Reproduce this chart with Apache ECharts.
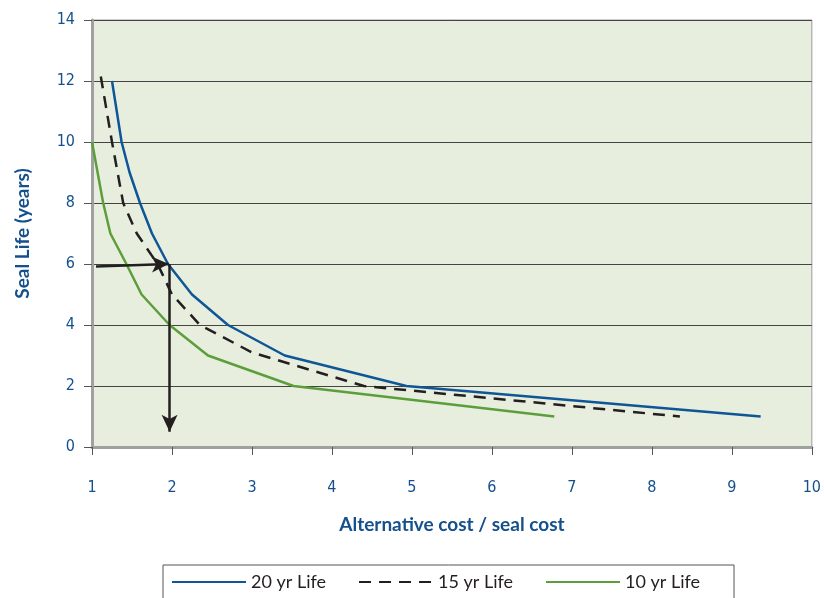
<!DOCTYPE html>
<html>
<head>
<meta charset="utf-8">
<script src="https://cdn.jsdelivr.net/npm/echarts@6/dist/echarts.min.js"></script>
<style>
html,body{margin:0;padding:0;background:#fff;}
#chart{width:824px;height:598px;}
</style>
</head>
<body>
<div id="chart"></div>
<script>
// 20 yr Life
var x20 = [1.25, 1.37, 1.47, 1.6, 1.75, 1.95, 2.25, 2.7, 3.41, 4.93, 9.36];
var y20 = [12, 10, 9, 8, 7, 6, 5, 4, 3, 2, 1];
// 15 yr Life
var x15 = [1.11, 1.25, 1.39, 1.56, 1.82, 2.0, 2.35, 3.0, 4.4, 8.35];
var y15 = [12.15, 10, 8, 7, 6, 5, 4, 3.1, 2.0, 1.0];
// 10 yr Life
var x10 = [1.0, 1.14, 1.23, 1.43, 1.62, 1.97, 2.45, 3.52, 6.78];
var y10 = [10, 8, 7, 6, 5, 4, 3, 2, 1];
// reading arrows
var arrowH = [[1.05, 5.92], [1.96, 6.0]];
var arrowV = [[1.97, 6.0], [1.97, 0.5]];

var seriesNames = ['20 yr Life', '15 yr Life', '10 yr Life'];
var xTitle = 'Alternative cost / seal cost';
var yTitle = 'Seal Life (years)';

function zip(xs, ys) { return xs.map(function (x, i) { return [x, ys[i]]; }); }

var labelColor = '#14508c';
var tickFont = "'DejaVu Sans Condensed', 'Liberation Sans Narrow', 'Roboto', sans-serif";
var chart = echarts.init(document.getElementById('chart'), null, {renderer: 'canvas'});
chart.setOption({
  animation: false,
  grid: {left: 92, right: 11, top: 20, bottom: 151, show: true,
         backgroundColor: '#e7eede', borderColor: '#9a9a9a', borderWidth: 1},
  xAxis: {
    type: 'value', min: 1, max: 10, interval: 1,
    name: xTitle, nameLocation: 'middle', nameGap: 68,
    nameTextStyle: {fontFamily: 'Lato', fontWeight: 'bold', fontSize: 19, color: labelColor},
    axisLine: {show: true, lineStyle: {color: '#a0a0a0', width: 3}},
    axisTick: {show: true, inside: false, length: 8, lineStyle: {color: '#555', width: 1}},
    axisLabel: {margin: 33, fontFamily: tickFont, fontSize: 16, color: labelColor},
    splitLine: {show: false}
  },
  yAxis: {
    type: 'value', min: 0, max: 14, interval: 2,
    name: yTitle, nameLocation: 'middle', nameGap: 60,
    nameTextStyle: {fontFamily: 'Lato', fontWeight: 'bold', fontSize: 19, color: labelColor},
    axisLine: {show: true, lineStyle: {color: '#a0a0a0', width: 3}},
    axisTick: {show: true, inside: false, length: 8, lineStyle: {color: '#555', width: 1}},
    axisLabel: {margin: 17, fontFamily: tickFont, fontSize: 16, color: labelColor},
    splitLine: {show: true, lineStyle: {color: '#444', width: 1}}
  },
  legend: {
    data: seriesNames,
    left: 163, top: 565,
    padding: [8, 34, 20, 8],
    itemWidth: 74, itemHeight: 14, itemGap: 32,
    itemStyle: {opacity: 0},
    borderColor: '#555', borderWidth: 1,
    textStyle: {fontFamily: 'Lato', fontSize: 18, color: '#231f20'}
  },
  series: [
    {name: seriesNames[0], type: 'line', data: zip(x20, y20), symbol: 'none',
     lineStyle: {color: '#0f5697', width: 2.5}, itemStyle: {color: '#0f5697'}, z: 3},
    {name: seriesNames[1], type: 'line', data: zip(x15, y15), symbol: 'none',
     lineStyle: {color: '#231f20', width: 2.5, type: [12, 8]}, itemStyle: {color: '#231f20'}, z: 3},
    {name: seriesNames[2], type: 'line', data: zip(x10, y10), symbol: 'none',
     lineStyle: {color: '#5c9e3c', width: 2.5}, itemStyle: {color: '#5c9e3c'}, z: 3},
    {name: 'arrows', type: 'line', data: [], symbol: 'none', z: 5,
     markLine: {
       silent: true, symbol: ['none', 'arrow'], symbolSize: [12, 17],
       label: {show: false},
       lineStyle: {color: '#231f20', width: 2.5, type: 'solid'},
       emphasis: {disabled: true},
       data: [
         [{coord: arrowH[0]}, {coord: arrowH[1]}],
         [{coord: arrowV[0]}, {coord: arrowV[1]}]
       ]
     }}
  ]
});
</script>
</body>
</html>
